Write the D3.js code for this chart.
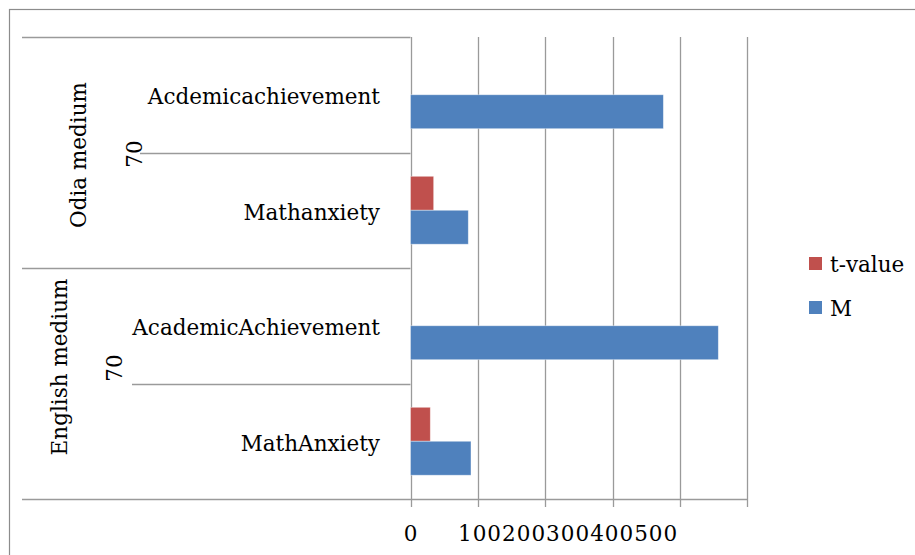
<!DOCTYPE html>
<html>
<head>
<meta charset="utf-8">
<script src="https://cdn.jsdelivr.net/npm/d3@7/dist/d3.min.js"></script>
<style>
  html, body { margin: 0; padding: 0; background: #fff; }
  svg { display: block; }
  text { font-family: "DejaVu Serif", "Liberation Serif", serif; fill: #000; }
</style>
</head>
<body>
<script>
// Category rows, top to bottom
const categories = ["Acdemicachievement", "Mathanxiety", "AcademicAchievement", "MathAnxiety"];
const groupOf = ["Odia medium", "Odia medium", "English medium", "English medium"];
const groupNames = ["Odia medium", "English medium"];
const groupN = ["70", "70"];

// Series (legend order top to bottom)
const seriesNames = ["t-value", "M"];
const tValues = [null, 34.4, null, 29.4];
const mValues = [375.4, 85.8, 457.0, 89.8];
const seriesColors = ["#C0504D", "#4F81BD"];

// Value axis
const xTicks = [0, 100, 200, 300, 400, 500];
const xTickLabels = ["0", "100", "200", "300", "400", "500"];

const W = 915, H = 555;
const FS = 21.5;
const svg = d3.select("body").append("svg").attr("width", W).attr("height", H);

// Chart-area frame
svg.append("rect").attr("x", 9.5).attr("y", 9.5).attr("width", W + 20).attr("height", H + 20)
  .attr("fill", "none").attr("stroke", "#8c8c8c").attr("stroke-width", 1.2);

const plotTop = 37, plotBottom = 499, plotLeft = 410.5, plotRight = 747.3;
const x = d3.scaleLinear().domain([0, 500]).range([plotLeft, plotRight]);
const y = d3.scaleBand().domain(categories).range([plotTop, plotBottom]).paddingInner(0).paddingOuter(0);
const ySub = d3.scaleBand().domain(seriesNames).range([0, y.bandwidth()]).paddingInner(0).paddingOuter(0.7);

const gridColor = "#9a9a9a";

// Vertical gridlines with tick stubs below the axis
svg.append("g").selectAll("line").data(xTicks).join("line")
  .attr("x1", d => Math.round(x(d)) + 0.5).attr("x2", d => Math.round(x(d)) + 0.5)
  .attr("y1", plotTop).attr("y2", plotBottom + 8)
  .attr("stroke", gridColor).attr("stroke-width", 1.3);

// Bottom axis line, extended under the category label area
svg.append("line").attr("x1", 22).attr("x2", plotRight + 0.5)
  .attr("y1", plotBottom + 0.5).attr("y2", plotBottom + 0.5)
  .attr("stroke", gridColor).attr("stroke-width", 1.3);

// Category / group separators on the left
const sepLines = [];
categories.forEach((c, i) => {
  const isGroupStart = i === 0 || groupOf[i] !== groupOf[i - 1];
  const gi = groupNames.indexOf(groupOf[i]);
  sepLines.push({ y: y(c), x1: isGroupStart ? 22 : (gi === 0 ? 140 : 132) });
});
svg.append("g").selectAll("line").data(sepLines).join("line")
  .attr("x1", d => d.x1).attr("x2", plotLeft)
  .attr("y1", d => Math.round(d.y) + 0.5).attr("y2", d => Math.round(d.y) + 0.5)
  .attr("stroke", gridColor).attr("stroke-width", 1.3);

// Bars
const rows = categories.map((c, i) => ({ cat: c, vals: [tValues[i], mValues[i]] }));
const barG = svg.append("g");
rows.forEach(r => {
  r.vals.forEach((v, si) => {
    if (v == null) return;
    barG.append("rect")
      .attr("x", x(0))
      .attr("y", y(r.cat) + ySub(seriesNames[si]))
      .attr("width", x(v) - x(0))
      .attr("height", ySub.bandwidth())
      .attr("fill", seriesColors[si])
      .attr("stroke", "#ffffff").attr("stroke-opacity", 0.5).attr("stroke-width", 0.8);
  });
});

// Category labels
svg.append("g").selectAll("text").data(categories).join("text")
  .attr("x", 380).attr("y", d => y(d) + y.bandwidth() / 2 + 2)
  .attr("text-anchor", "end").attr("dominant-baseline", "central")
  .attr("font-size", FS).text(d => d);

// Group labels and sample sizes (rotated)
const groupLayout = [
  { nameX: 78, nameY: 155, nX: 134, nY: 154 },
  { nameX: 59, nameY: 367, nX: 114, nY: 368 }
];
groupNames.forEach((g, i) => {
  const L = groupLayout[i];
  svg.append("text")
    .attr("transform", `translate(${L.nameX},${L.nameY}) rotate(-90)`)
    .attr("text-anchor", "middle").attr("dominant-baseline", "central")
    .attr("font-size", FS).text(g);
  svg.append("text")
    .attr("transform", `translate(${L.nX},${L.nY}) rotate(-90)`)
    .attr("text-anchor", "middle").attr("dominant-baseline", "central")
    .attr("font-size", FS).text(groupN[i]);
});

// Value axis labels: "0" under its tick, the rest run together
svg.append("text").attr("x", x(xTicks[0])).attr("y", 541)
  .attr("text-anchor", "middle").attr("font-size", FS).text(xTickLabels[0]);
const tl = svg.append("text").attr("x", 458).attr("y", 541).attr("font-size", FS)
  .attr("letter-spacing", 1);
tl.selectAll("tspan").data(xTickLabels.slice(1)).join("tspan").text(d => d);

// Legend
const leg = svg.append("g").selectAll("g").data(seriesNames).join("g")
  .attr("transform", (d, i) => `translate(809,${257 + i * 44})`);
leg.append("rect").attr("width", 13).attr("height", 13).attr("fill", (d, i) => seriesColors[i]);
leg.append("text").attr("x", 21).attr("y", 7).attr("dominant-baseline", "central")
  .attr("font-size", FS).text(d => d);
</script>
</body>
</html>
